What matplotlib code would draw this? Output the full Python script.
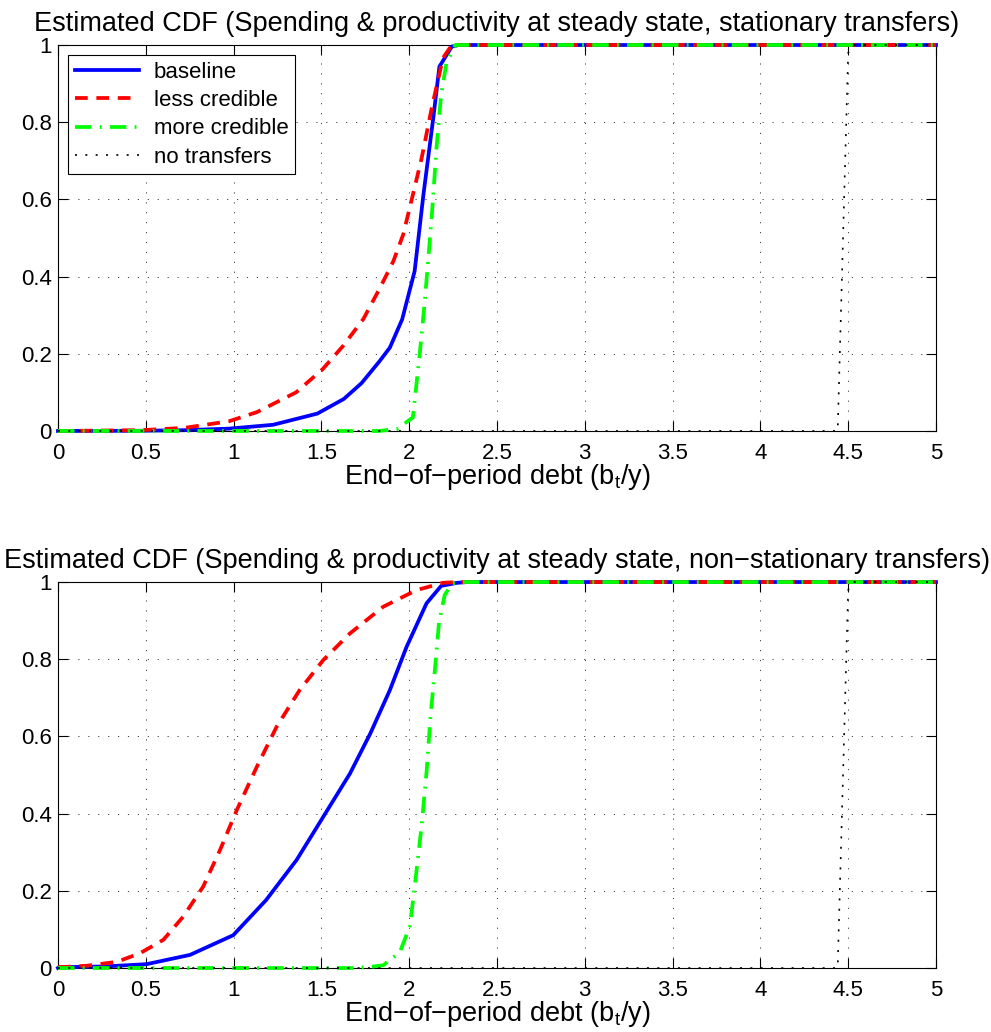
import numpy as np
import matplotlib
matplotlib.use('Agg')
import matplotlib.pyplot as plt

plt.rcParams['font.family'] = ['Liberation Sans', 'DejaVu Sans']
plt.rcParams['mathtext.fontset'] = 'custom'
plt.rcParams['mathtext.rm'] = 'Liberation Sans'
plt.rcParams['mathtext.it'] = 'Liberation Sans'

# ---- top panel: stationary transfers
x_base_s = [0, 0.47, 0.72, 0.973, 1.225, 1.477, 1.628, 1.729, 1.83, 1.89, 1.96, 2.031, 2.081, 2.137, 2.172, 2.243, 2.283, 5.0]
y_base_s = [0, 0.0005, 0.002, 0.006, 0.016, 0.045, 0.083, 0.124, 0.180, 0.216, 0.289, 0.414, 0.612, 0.81, 0.944, 0.996, 1.0, 1.0]
x_less_s = [0, 0.47, 0.72, 0.973, 1.134, 1.356, 1.507, 1.623, 1.739, 1.833, 1.910, 1.966, 2.021, 2.071, 2.128, 2.192, 2.243, 5.0]
y_less_s = [0, 0.002, 0.008, 0.025, 0.049, 0.10, 0.16, 0.22, 0.29, 0.37, 0.44, 0.509, 0.612, 0.707, 0.836, 0.966, 1.0, 1.0]
x_more_s = [0, 1.83, 1.93, 1.97, 2.021, 2.061, 2.089, 2.128, 2.157, 2.182, 2.212, 2.263, 5.0]
y_more_s = [0, 0, 0.005, 0.018, 0.035, 0.204, 0.337, 0.552, 0.742, 0.871, 0.953, 1.0, 1.0]

# ---- bottom panel: non-stationary transfers
x_base_n = [0, 0.01, 0.268, 0.505, 0.752, 0.998, 1.185, 1.359, 1.511, 1.663, 1.779, 1.890, 1.985, 2.099, 2.182, 2.273, 2.333, 5.0]
y_base_n = [0, 0.002, 0.004, 0.010, 0.034, 0.085, 0.176, 0.28, 0.392, 0.504, 0.608, 0.72, 0.832, 0.945, 0.990, 0.998, 1.0, 1.0]
x_less_n = [0, 0.167, 0.335, 0.466, 0.60, 0.713, 0.827, 0.923, 1.018, 1.131, 1.245, 1.376, 1.511, 1.663, 1.852, 2.041, 2.192, 2.283, 5.0]
y_less_n = [0.002, 0.006, 0.016, 0.038, 0.073, 0.133, 0.211, 0.306, 0.409, 0.52, 0.625, 0.72, 0.798, 0.867, 0.936, 0.979, 0.998, 1.0, 1.0]
x_more_n = [0, 1.678, 1.779, 1.852, 1.947, 2.005, 2.041, 2.071, 2.099, 2.122, 2.147, 2.170, 2.202, 2.243, 2.283, 5.0]
y_more_n = [0, 0, 0.003, 0.007, 0.041, 0.11, 0.249, 0.37, 0.508, 0.655, 0.775, 0.896, 0.966, 0.996, 1.0, 1.0]

# no transfers (same in both)
x_none = [0, 4.44, 4.5, 4.53, 5.0]
y_none = [0, 0, 0.98, 1.0, 1.0]

titles = ['Estimated CDF (Spending & productivity at steady state, stationary transfers)',
          'Estimated CDF (Spending & productivity at steady state, non\u2212stationary transfers)']
xlab = 'End\u2212of\u2212period debt (b$_t$/y)'

fig = plt.figure(figsize=(9.91, 10.32), dpi=100)
ax1 = fig.add_axes([0.0585, 0.5824, 0.886, 0.374])
ax2 = fig.add_axes([0.0585, 0.062, 0.886, 0.374])

panels = [(ax1, x_base_s, y_base_s, x_less_s, y_less_s, x_more_s, y_more_s),
          (ax2, x_base_n, y_base_n, x_less_n, y_less_n, x_more_n, y_more_n)]

for i, (ax, xb, yb, xl, yl, xm, ym) in enumerate(panels):
    ax.plot(xb, yb, color='#0000ff', lw=2.7, label='baseline', clip_on=False, zorder=3)
    ax.plot(xl, yl, color='#ff0000', lw=2.7, dashes=(3.4, 2.3), label='less credible', clip_on=False, zorder=3)
    ax.plot(xm, ym, color='#00ff00', lw=2.7, dashes=(4.4, 2.2, 0.5, 2.2), label='more credible', clip_on=False, zorder=3)
    ax.plot(x_none, y_none, color='black', lw=1.2, dashes=(1.2, 5), label='no transfers', clip_on=False, zorder=3)

    ax.set_xlim(0, 5)
    ax.set_ylim(0, 1)
    ax.set_xticks(np.arange(0, 5.01, 0.5))
    ax.set_xticklabels(['0', '0.5', '1', '1.5', '2', '2.5', '3', '3.5', '4', '4.5', '5'])
    ax.set_yticks([0, 0.2, 0.4, 0.6, 0.8, 1])
    ax.set_yticklabels(['0', '0.2', '0.4', '0.6', '0.8', '1'])
    ax.tick_params(direction='in', length=7, width=0.8, top=True, right=True, labelsize=16)
    ax.tick_params(axis='x', pad=8.5)
    ax.tick_params(axis='y', pad=4.5)
    ax.grid(True, color='0.25', linestyle=(0, (1.2, 9)), lw=0.7)
    for s in ax.spines.values():
        s.set_linewidth(0.8)
    ax.set_title(titles[i], fontsize=19.5, pad=10)
    ax.set_xlabel(xlab, fontsize=19.5, labelpad=-1.5)

    if i == 0:
        leg = ax.legend(loc='upper left', bbox_to_anchor=(0.0114, 0.974), fontsize=16,
                        handlelength=2.9, labelspacing=0.33, borderpad=0.3,
                        handletextpad=0.65, fancybox=False, framealpha=1,
                        borderaxespad=0)
        leg.get_frame().set_edgecolor('black')
        leg.get_frame().set_linewidth(0.8)

fig.savefig('out.png', dpi=100)
